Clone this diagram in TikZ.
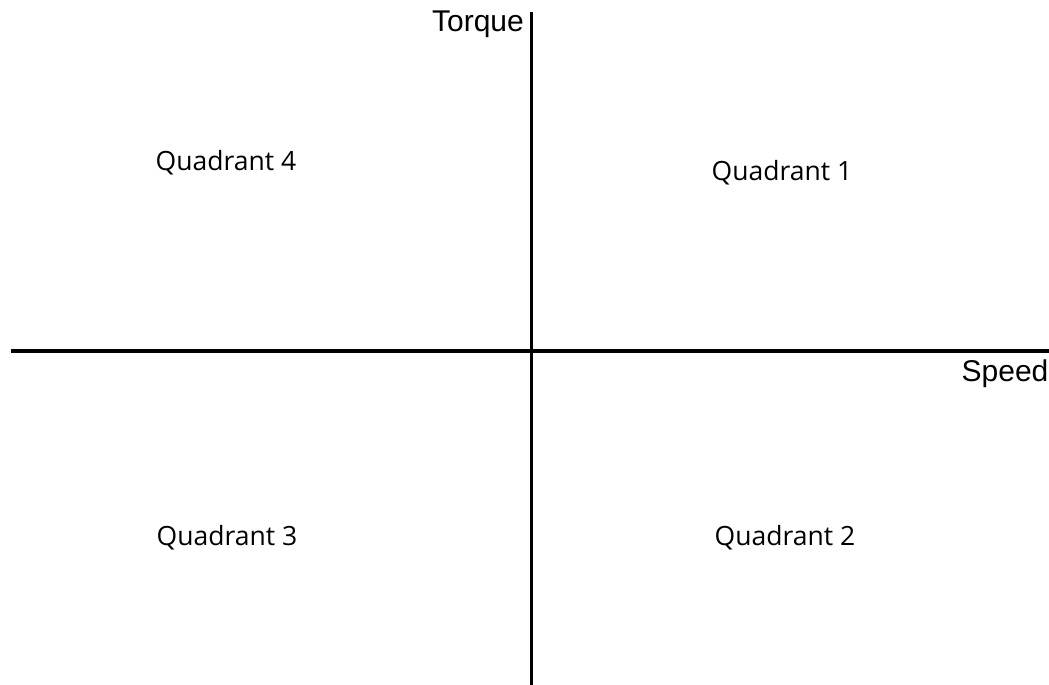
\documentclass[tikz,border=0pt]{standalone}
\usepackage{fontspec}
\setmainfont{Liberation Sans}
\newfontfamily\quadfont{Open Sans}
\usetikzlibrary{positioning}

\begin{document}
\begin{tikzpicture}[
  x=1pt, y=-1pt,
  axis/.style={line width=3.5pt,black},
  axlabel/.style={font=\fontsize{30}{34}\selectfont,inner sep=0pt},
  quad/.style={font=\quadfont\fontsize{26.5}{30}\selectfont,inner sep=0pt}
]
  \useasboundingbox (0,0) rectangle (1049,685);

  % axes
  \coordinate (xl) at (11,351);
  \coordinate (xr) at (1049,351);
  \coordinate (yt) at (531.5,12);
  \coordinate (yb) at (531.5,685);
  \draw[axis] (xl) -- (xr);
  \draw[axis] (yt) -- (yb);

  \node[axlabel,anchor=east] (torque) at (524,24) {Torque};
  \node[axlabel] (speed) at (1005,374) {Speed};

  % quadrant labels
  \node[quad] (q4) at (226,163) {Quadrant 4};
  \node[quad] (q1) at (782,173) {Quadrant 1};
  \node[quad] (q3) at (227,538) {Quadrant 3};
  \node[quad] (q2) at (785,538) {Quadrant 2};
\end{tikzpicture}
\end{document}
